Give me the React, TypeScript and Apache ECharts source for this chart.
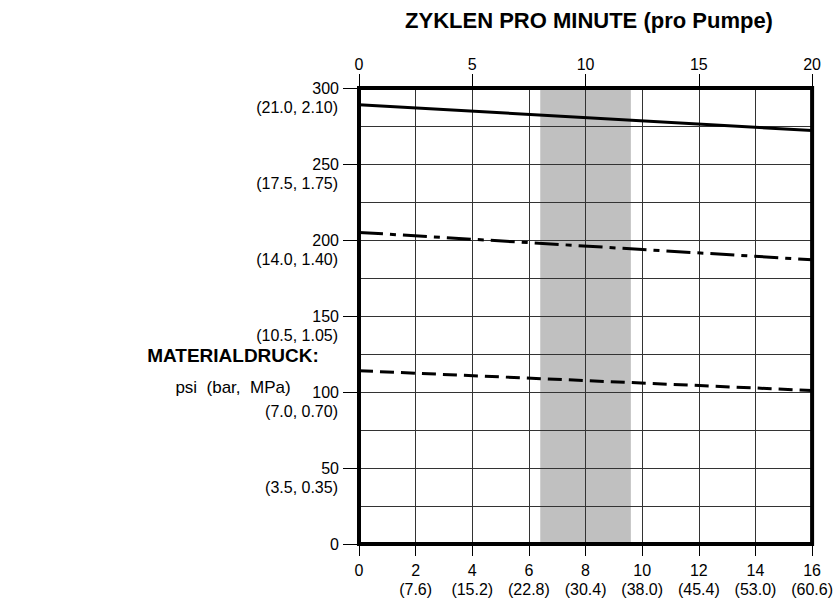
import React, { useEffect, useRef } from "react";
import * as echarts from "echarts";

// Bottom axis (0..16) with secondary labels
const bottomTicks = [0, 2, 4, 6, 8, 10, 12, 14, 16];
const bottomSub = ["", "(7.6)", "(15.2)", "(22.8)", "(30.4)", "(38.0)", "(45.4)", "(53.0)", "(60.6)"];
// Left axis (psi) with bar/MPa labels
const psiTicks = [0, 50, 100, 150, 200, 250, 300];
const psiSub = ["", "(3.5, 0.35)", "(7.0, 0.70)", "(10.5, 1.05)", "(14.0, 1.40)", "(17.5, 1.75)", "(21.0, 2.10)"];
// Series (x on bottom axis, y psi)
const solidLine = [[0, 289], [16, 272]];
const dashDotLine = [[0, 205], [16, 187]];
const dashedLine = [[0, 114], [16, 101]];
// Shaded band (bottom axis units)
const bandRange = [6.4, 9.6];

const FONT = "'Liberation Sans', Arial, sans-serif";

export default function App() {
  const ref = useRef<HTMLDivElement>(null);
  useEffect(() => {
    document.body.style.margin = "0";
    const chart = echarts.init(ref.current!, null, { renderer: "svg" });
    const gridColor = "#333";
    chart.setOption({
      animation: false,
      backgroundColor: "#fff",
      textStyle: { fontFamily: FONT },
      grid: {
        left: 359, right: 21, top: 88, bottom: 57,
        show: true, borderWidth: 4, borderColor: "#000", z: 6,
      },
      graphic: [
        {
          type: "text", x: 589, y: 20, z: 10,
          style: {
            text: "ZYKLEN PRO MINUTE (pro Pumpe)", font: `bold 22px ${FONT}`,
            fill: "#000", align: "center", verticalAlign: "middle",
          },
        },
        {
          type: "text", x: 233, y: 355, z: 10,
          style: {
            text: "MATERIALDRUCK:", font: `bold 19px ${FONT}`, fill: "#000",
            align: "center", verticalAlign: "middle",
          },
        },
        {
          type: "text", x: 233, y: 387, z: 10,
          style: {
            text: "psi  (bar,  MPa)", font: `17px ${FONT}`, fill: "#000",
            align: "center", verticalAlign: "middle",
          },
        },
      ],
      xAxis: [
        {
          type: "value", position: "bottom", min: 0, max: 16, interval: 2, z: 3,
          axisLine: { show: false, onZero: false },
          axisTick: { show: true, length: 12, lineStyle: { color: "#000", width: 1 } },
          axisLabel: {
            show: true, margin: 17, fontSize: 16, lineHeight: 19, color: "#000", fontFamily: FONT,
            showMinLabel: true, showMaxLabel: true,
            formatter: (v: number) => {
              const i = bottomTicks.indexOf(v);
              const sub = i >= 0 ? bottomSub[i] : "";
              return sub ? `${v}\n${sub}` : `${v}`;
            },
          },
          splitLine: { show: true, lineStyle: { color: gridColor, width: 1 } },
        },
        {
          type: "value", position: "top", min: 0, max: 20, interval: 5, z: 3,
          axisLine: { show: false, onZero: false },
          axisTick: { show: true, length: 14, lineStyle: { color: "#000", width: 1 } },
          axisLabel: {
            show: true, margin: 16, fontSize: 16, color: "#000", fontFamily: FONT,
            showMinLabel: true, showMaxLabel: true,
          },
          splitLine: { show: false },
        },
      ],
      yAxis: [
        {
          type: "value", position: "left", min: 0, max: 300, interval: 50, z: 3,
          axisLine: { show: false, onZero: false },
          axisTick: { show: true, length: 16, lineStyle: { color: "#000", width: 1 } },
          axisLabel: {
            show: true, margin: 20, fontSize: 16, color: "#000", fontFamily: FONT,
            showMinLabel: true, showMaxLabel: true,
          },
          splitLine: { show: true, lineStyle: { color: gridColor, width: 1 } },
          minorTick: { show: false, splitNumber: 2 },
          minorSplitLine: { show: true, lineStyle: { color: gridColor, width: 1 } },
        },
        {
          type: "value", position: "left", min: 0, max: 300, interval: 50, z: 3,
          axisLine: { show: false, onZero: false },
          axisTick: { show: false },
          splitLine: { show: false },
          axisLabel: {
            show: true, margin: 21, fontSize: 16, color: "#000", fontFamily: FONT,
            verticalAlign: "top", lineHeight: 38,
            showMinLabel: true, showMaxLabel: true,
            formatter: (v: number) => {
              const i = psiTicks.indexOf(v);
              return i >= 0 ? psiSub[i] : "";
            },
          },
        },
      ],
      series: [
        {
          type: "line", xAxisIndex: 0, yAxisIndex: 0, data: [], z: 1,
          markArea: {
            silent: true,
            itemStyle: { color: "#c0c0c0", opacity: 1 },
            data: [[{ xAxis: bandRange[0] }, { xAxis: bandRange[1] }]],
          },
        },
        {
          type: "line", xAxisIndex: 0, yAxisIndex: 0, data: solidLine, z: 5,
          symbol: "none", lineStyle: { color: "#000", width: 3, type: "solid" },
        },
        {
          type: "line", xAxisIndex: 0, yAxisIndex: 0, data: dashDotLine, z: 5,
          symbol: "none", lineStyle: { color: "#000", width: 3, type: [24, 7, 6, 7] },
        },
        {
          type: "line", xAxisIndex: 0, yAxisIndex: 0, data: dashedLine, z: 5,
          symbol: "none", lineStyle: { color: "#000", width: 3, type: [14, 7] },
        },
      ],
    });
    return () => chart.dispose();
  }, []);
  return <div ref={ref} style={{ width: 836, height: 601 }} />;
}
